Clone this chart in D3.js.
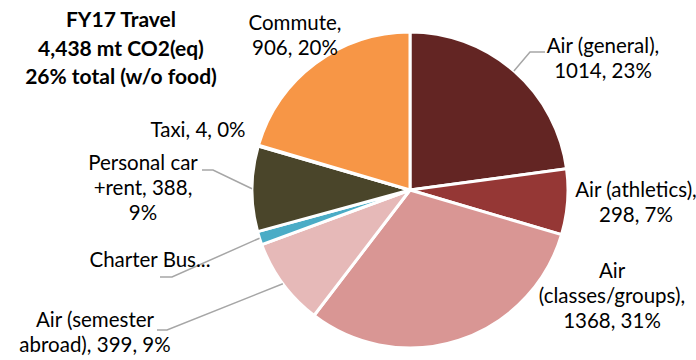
<!DOCTYPE html>
<html>
<head>
<meta charset="utf-8">
<script src="https://cdn.jsdelivr.net/npm/d3@7"></script>
<style>
  html, body { margin: 0; padding: 0; background: #fff; }
  svg { display: block; }
  text { font-family: Lato, "Open Sans", sans-serif; fill: #000; }
</style>
</head>
<body>
<svg id="chart" width="696" height="360"></svg>
<script>
// Travel emissions by category, FY17 (mt CO2 eq)
const categories = ["Air (general)", "Air (athletics)", "Air (classes/groups)", "Air (semester abroad)",
                    "Charter Bus", "Personal car +rent", "Taxi", "Commute"];
const values = [1014, 298, 1368, 399, 61, 388, 4, 906];
const colors = ["#632523", "#953735", "#D99694", "#E6B9B8", "#4BACC6", "#4A452A", "#8064A2", "#F79646"];

const titleLines = ["FY17 Travel", "4,438 mt CO2(eq)", "26% total (w/o food)"];

// Label text per slice; {v} = value, {p} = share of total
const labelLines = [
  ["Air (general),", "{v}, {p}"],
  ["Air (athletics),", "{v}, {p}"],
  ["Air", "(classes/groups),", "{v}, {p}"],
  ["Air (semester", "abroad), {v}, {p}"],
  ["Charter Bus..."],
  ["Personal car", "+rent, {v},", "{p}"],
  ["Taxi, {v}, {p}"],
  ["Commute,", "{v}, {p}"]
];

// Label placement: centre x, first baseline y, optional leader elbow [x, y] and end x
const labelLayout = [
  { x: 603, y: 53, elbow: [530, 52], end: 545 },
  { x: 636, y: 197 },
  { x: 612, y: 278 },
  { x: 95,  y: 327, elbow: [167, 330], end: 157 },
  { x: 150, y: 267, elbow: [172, 277], end: 160 },
  { x: 143, y: 170, elbow: [213, 170], end: 202 },
  { x: 198, y: 137 },
  { x: 295, y: 30 }
];

const width = 696, height = 360;
const cx = 410, cy = 190, radius = 158;
const lineGap = 25;

const svg = d3.select("#chart");
const total = d3.sum(values);

const data = categories.map((c, i) => ({ name: c, value: values[i], color: colors[i], i }));

const pie = d3.pie().value(d => d.value).sort(null);
const arcs = pie(data);
const arc = d3.arc().innerRadius(0).outerRadius(radius);
const edge = d3.arc().innerRadius(radius).outerRadius(radius);

const g = svg.append("g").attr("transform", `translate(${cx},${cy})`);

g.selectAll("path.slice")
  .data(arcs)
  .join("path")
  .attr("class", "slice")
  .attr("d", arc)
  .attr("fill", d => d.data.color)
  .attr("stroke", "#fff")
  .attr("stroke-width", 3)
  .attr("stroke-linejoin", "round");

// Leader lines
arcs.forEach((a, i) => {
  const L = labelLayout[i];
  if (!L.elbow) return;
  const [px, py] = edge.centroid(a);
  svg.append("polyline")
    .attr("points", [[cx + px, cy + py], L.elbow, [L.end, L.elbow[1]]].map(p => p.join(",")).join(" "))
    .attr("fill", "none")
    .attr("stroke", "#A6A6A6")
    .attr("stroke-width", 1.5);
});

// Data labels
const fmt = (s, d) => s.replace("{v}", d.value).replace("{p}", Math.round(d.value / total * 100) + "%");
data.forEach((d, i) => {
  const L = labelLayout[i];
  const t = svg.append("text")
    .attr("text-anchor", "middle")
    .attr("font-size", 20.5);
  labelLines[i].forEach((line, k) => {
    t.append("tspan").attr("x", L.x).attr("y", L.y + k * lineGap).text(fmt(line, d));
  });
});

// Title
const title = svg.append("text")
  .attr("text-anchor", "middle")
  .attr("font-size", 21)
  .attr("font-weight", "bold");
titleLines.forEach((line, k) => {
  title.append("tspan").attr("x", 121).attr("y", 27 + k * 28.5).text(line);
});
</script>
</body>
</html>
